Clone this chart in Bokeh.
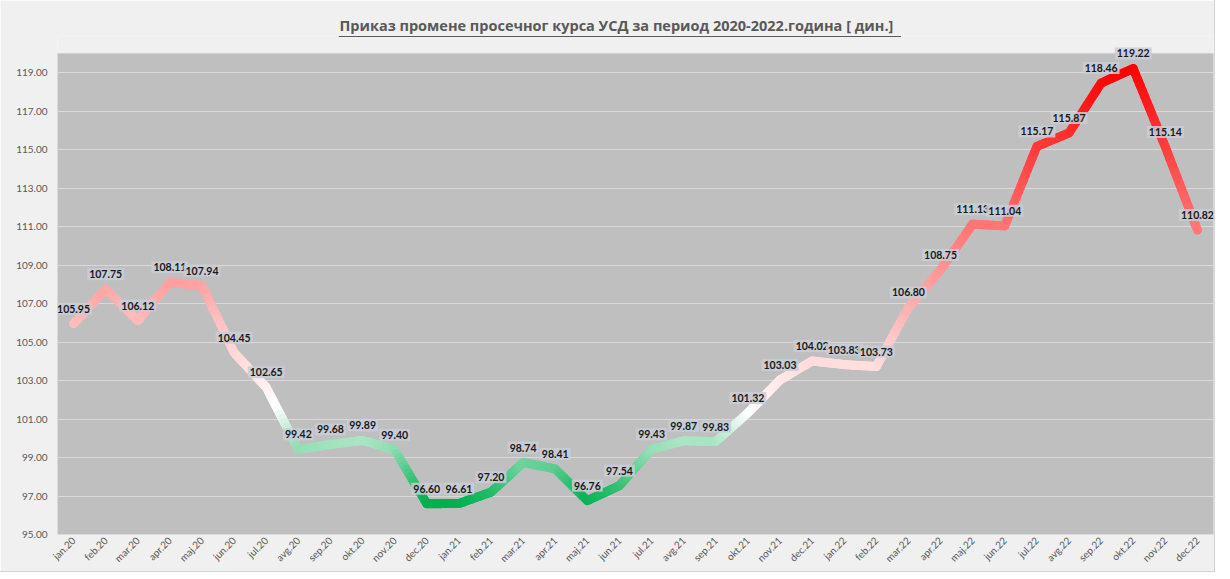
import numpy as np
from bokeh.plotting import figure
from bokeh.models import Range1d, FixedTicker, NumeralTickFormatter
from bokeh.embed import file_html
from bokeh.resources import INLINE
from bokeh.core.properties import value

TITLE = "Приказ промене просечног курса УСД за период 2020-2022.година [ дин.]"

months = ["jan.20", "feb.20", "mar.20", "apr.20", "maj.20", "jun.20", "jul.20", "avg.20",
          "sep.20", "okt.20", "nov.20", "dec.20", "jan.21", "feb.21", "mar.21", "apr.21",
          "maj.21", "jun.21", "jul.21", "avg.21", "sep.21", "okt.21", "nov.21", "dec.21",
          "jan.22", "feb.22", "mar.22", "apr.22", "maj.22", "jun.22", "jul.22", "avg.22",
          "sep.22", "okt.22", "nov.22", "dec.22"]

rates = [105.95, 107.75, 106.12, 108.11, 107.94, 104.45, 102.65, 99.42,
         99.68, 99.89, 99.40, 96.60, 96.61, 97.20, 98.74, 98.41,
         96.76, 97.54, 99.43, 99.87, 99.83, 101.32, 103.03, 104.02,
         103.83, 103.73, 106.80, 108.75, 111.13, 111.04, 115.17, 115.87,
         118.46, 119.22, 115.14, 110.82]

y_ticks = [95, 97, 99, 101, 103, 105, 107, 109, 111, 113, 115, 117, 119]
Y_MIN, Y_MAX = 95, 120          # value axis of the grey plot area
Y_ROOM = 120.934                 # headroom (title underline / top data label)
UNDERLINE_Y = 120.882

LOW, MID, HIGH = min(rates), 101.5, max(rates)


def colour(v):
    if v <= MID:
        t = min(1.0, (MID - v) / (MID - LOW))
        c = (0, 176, 80)
    else:
        t = min(1.0, (v - MID) / (HIGH - MID))
        c = (255, 0, 0)
    r = round(255 + (c[0] - 255) * t)
    g = round(255 + (c[1] - 255) * t)
    b = round(255 + (c[2] - 255) * t)
    return "#%02x%02x%02x" % (r, g, b)


n = len(months)
xpos = [i + 0.5 for i in range(n)]

p = figure(width=1214, height=571, output_backend="svg", toolbar_location=None,
           x_range=Range1d(0, n), y_range=Range1d(Y_MIN, Y_ROOM),
           min_border_left=57, min_border_right=1, min_border_top=35, min_border_bottom=36,
           background_fill_color="#f0f0f0", border_fill_color="#f0f0f0",
           outline_line_color=None)
p.styles = {"outline": "1px solid #d4d4d4"}

p.title.text = TITLE
p.title.align = "left"
p.title.offset = 282
p.title.text_font = "Open Sans"
p.title.text_font_size = "14.5px"
p.title.text_font_style = "bold"
p.title.text_color = "#595959"
p.title.standoff = 1

# grey plot area (under the grid)
p.quad(left=[0], right=[n], bottom=[Y_MIN], top=[Y_MAX], fill_color="#bfbfbf",
       line_color="#d0d0d0", line_width=1, level="image")

# title underline
p.segment(x0=[8.76], x1=[26.27], y0=[UNDERLINE_Y], y1=[UNDERLINE_Y],
          line_color="#595959", line_width=1)

# gradient line: each segment split into short pieces just for the colour ramp
N = 14
x0, y0, x1, y1, cols = [], [], [], [], []
for i in range(len(rates) - 1):
    xa, xb = xpos[i], xpos[i + 1]
    ya, yb = rates[i], rates[i + 1]
    for k in range(N):
        f0, f1 = k / N, (k + 1) / N
        x0.append(xa + (xb - xa) * f0)
        x1.append(xa + (xb - xa) * f1)
        y0.append(ya + (yb - ya) * f0)
        y1.append(ya + (yb - ya) * f1)
        cols.append(colour(ya + (yb - ya) * (f0 + f1) / 2))
p.segment(x0=x0, y0=y0, x1=x1, y1=y1, line_color=cols, line_width=9, line_cap="round")

labels = ["%.2f" % v for v in rates]
p.text(x=xpos, y=rates, text=labels, y_offset=-15, text_align="center", text_baseline="middle",
       text_font=value("Lato"), text_font_style="bold", text_font_size="10.5px",
       text_color="#1a1a1a", background_fill_color="#c8ccd6", background_fill_alpha=0.85,
       padding=2)

p.xaxis.ticker = FixedTicker(ticks=xpos)
p.xaxis.major_label_overrides = {x: m for x, m in zip(xpos, months)}
p.xaxis.major_label_orientation = np.pi / 4
p.xaxis.major_label_standoff = 4
p.yaxis.ticker = FixedTicker(ticks=y_ticks)
p.yaxis.formatter = NumeralTickFormatter(format="0.00")
p.yaxis.major_label_standoff = 10
for ax in (p.xaxis, p.yaxis):
    ax.axis_line_color = None
    ax.major_tick_line_color = None
    ax.minor_tick_line_color = None
    ax.major_tick_out = 0
    ax.major_tick_in = 0
    ax.major_label_text_font = "Lato"
    ax.major_label_text_font_size = "10px"
    ax.major_label_text_color = "#595959"
p.xgrid.visible = False
p.ygrid.ticker = FixedTicker(ticks=y_ticks)
p.ygrid.grid_line_color = "#d9d9d9"
p.ygrid.grid_line_width = 1

open("out.html", "w").write(file_html(p, INLINE))
